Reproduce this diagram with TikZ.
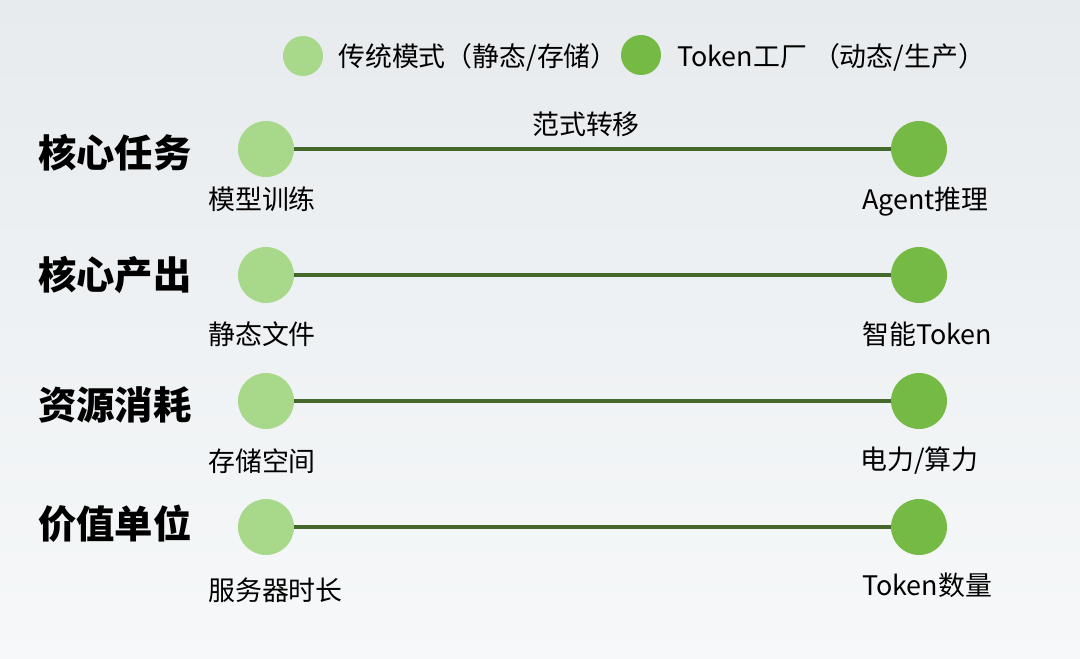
\documentclass[tikz,border=0pt]{standalone}
\usepackage{fontspec}
\setmainfont{Noto Sans CJK SC}
\definecolor{lightgrn}{HTML}{A8D98A}
\definecolor{darkgrn}{HTML}{74BA45}
\definecolor{linkgrn}{HTML}{44682C}
\definecolor{bgtop}{HTML}{E7EBEE}
\definecolor{bgbot}{HTML}{F6F8F9}
\tikzset{
  lightdot/.style={circle,fill=lightgrn,inner sep=0pt,minimum size=56bp},
  darkdot/.style={circle,fill=darkgrn,inner sep=0pt,minimum size=56bp},
  keydot/.style={circle,inner sep=0pt,minimum size=40bp},
  link/.style={draw=linkgrn,line width=4.5bp},
  rowtitle/.style={anchor=west,inner sep=0pt,font=\fontsize{38.5}{42}\selectfont\bfseries},
  sublabel/.style={anchor=west,inner sep=0pt,font=\fontsize{27}{32}\selectfont},
}
\begin{document}
\begin{tikzpicture}[x=1bp,y=-1bp]
\shade[top color=bgtop,bottom color=bgbot] (0,0) rectangle (1080,659);
\useasboundingbox (0,0) rectangle (1080,659);

% legend
\node[keydot,fill=lightgrn] (k1) at (303,56) {};
\node[sublabel] (k1t) at (338,57) {传统模式（静态/存储）};
\node[keydot,fill=darkgrn] (k2) at (641,55) {};
\node[sublabel] (k2t) at (677,57) {Token工厂 （动态/生产）};

% row 1
\node[rowtitle] (t1) at (38,153) {核心任务};
\node[lightdot] (a1) at (266,149) {};
\node[darkdot] (b1) at (919,149) {};
\draw[link] (a1) -- (b1);
\node[sublabel] (shift) at (586,124) [anchor=center] {范式转移};
\node[sublabel] (a1t) at (208,199) {模型训练};
\node[sublabel] (b1t) at (862,202) {Agent推理};

% row 2
\node[rowtitle] (t2) at (38,275) {核心产出};
\node[lightdot] (a2) at (266,275) {};
\node[darkdot] (b2) at (919,275) {};
\draw[link] (a2) -- (b2);
\node[sublabel] (a2t) at (208,334) {静态文件};
\node[sublabel] (b2t) at (862,334) {智能Token};

% row 3
\node[rowtitle] (t3) at (38,405) {资源消耗};
\node[lightdot] (a3) at (266,401) {};
\node[darkdot] (b3) at (919,401) {};
\draw[link] (a3) -- (b3);
\node[sublabel] (a3t) at (208,461) {存储空间};
\node[sublabel] (b3t) at (860,461) {电力/算力};

% row 4
\node[rowtitle] (t4) at (38,524) {价值单位};
\node[lightdot] (a4) at (266,527) {};
\node[darkdot] (b4) at (919,527) {};
\draw[link] (a4) -- (b4);
\node[sublabel] (a4t) at (208,590) {服务器时长};
\node[sublabel] (b4t) at (862,585) {Token数量};
\end{tikzpicture}
\end{document}
